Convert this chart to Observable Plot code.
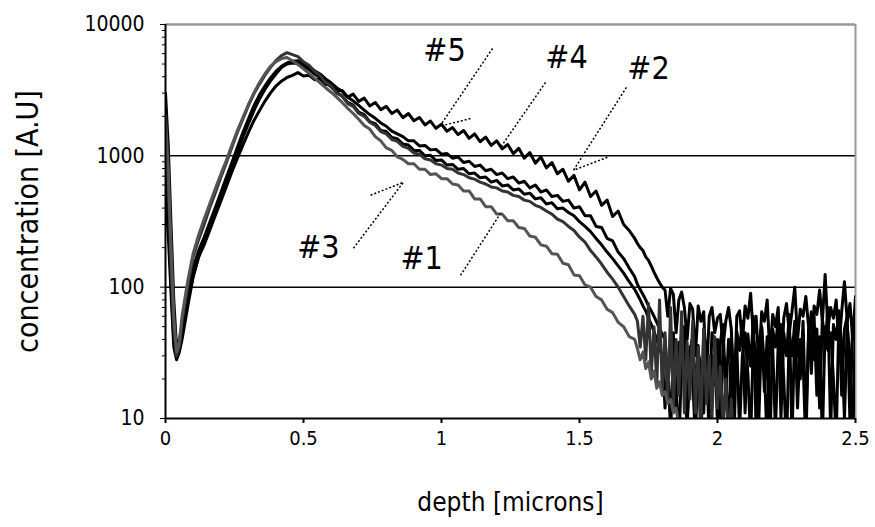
<!DOCTYPE html>
<html>
<head>
<meta charset="utf-8">
<script src="https://cdn.jsdelivr.net/npm/d3@7"></script>
<script src="https://cdn.jsdelivr.net/npm/@observablehq/plot@0.6"></script>
<style>
  html, body { margin: 0; padding: 0; background: #fff; }
  #chart svg { font-family: "DejaVu Sans Condensed", "Liberation Sans Narrow", "Liberation Sans", Arial, sans-serif; }
</style>
</head>
<body>
<div id="chart"></div>
<script>
// sampling grid (microns): 0.01 near the surface, 0.02 in the body, 0.01 in the noisy tail
const depth = [0, 0.01, 0.02, 0.03, 0.04, 0.05,
  ...d3.range(6, 171, 2).map(i => i / 100),
  ...d3.range(171, 251, 1).map(i => i / 100)];

// concentration [A.U], one array per sample
const s5 = [3000, 1200, 300, 80, 35, 40,
  50, 75, 120, 170, 210, 270, 350, 450, 580, 750,
  950, 1200, 1500, 1850, 2200, 2600, 3000, 3400, 3700, 3950,
  4100, 4300, 4050, 4100, 3800, 3850, 3500, 3500, 3150, 3150,
  2800, 2950, 2600, 2750, 2400, 2550, 2250, 2380, 2100, 2230,
  1950, 2100, 1850, 1960, 1720, 1840, 1620, 1740, 1540, 1640,
  1450, 1560, 1360, 1470, 1280, 1390, 1200, 1300, 1130, 1220,
  1040, 1140, 960, 1060, 880, 980, 810, 890, 730, 790,
  640, 710, 550, 630, 490, 540, 420, 460, 345, 380,
  300, 270, 235,
  215, 200, 190, 170, 160, 145, 130, 118, 108, 100,
  95, 60, 98, 88, 45, 80, 92, 70, 40, 75,
  68, 30, 72, 55, 65, 20, 60, 70, 45, 58,
  62, 35, 55, 70, 48, 15, 60, 66, 38, 72,
  58, 90, 42, 60, 25, 65, 55, 80, 30, 62,
  50, 70, 18, 58, 75, 45, 66, 100, 40, 68,
  60, 85, 50, 22, 72, 62, 95, 55, 125, 48,
  70, 58, 80, 35, 65, 110, 55, 75, 40, 85];

const s4 = [800, 350, 110, 40, 30, 35,
  45, 80, 140, 190, 240, 310, 400, 520, 680, 880,
  1150, 1500, 1900, 2400, 2900, 3400, 3900, 4400, 4800, 5100,
  5250, 5300, 5050, 4800, 4450, 4200, 3850, 3600, 3300, 3100,
  2800, 2620, 2420, 2230, 2060, 1930, 1780, 1680, 1540, 1470,
  1400, 1300, 1300, 1190, 1200, 1110, 1120, 1030, 1040, 960,
  980, 890, 910, 830, 850, 770, 790, 720, 740, 670,
  690, 620, 640, 570, 600, 530, 550, 490, 500, 450,
  460, 400, 410, 350, 350, 290, 285, 235, 225, 185,
  165, 140, 120,
  105, 96, 88, 80, 72, 66, 60, 54, 48, 44,
  40, 18, 35, 45, 12, 38, 28, 50, 8, 32,
  42, 15, 36, 6, 48, 30, 12, 45, 35, 9,
  38, 52, 14, 40, 28, 7, 46, 33, 55, 11,
  44, 25, 60, 8, 38, 50, 16, 42, 6, 48,
  35, 58, 10, 45, 30, 62, 7, 50, 38, 20,
  55, 9, 42, 65, 28, 48, 12, 58, 35, 70,
  8, 52, 40, 66, 15, 48, 60, 9, 55, 42];

const s2 = [500, 250, 90, 35, 28, 32,
  40, 70, 120, 170, 220, 290, 370, 480, 620, 800,
  1050, 1380, 1750, 2200, 2700, 3200, 3700, 4200, 4700, 5000,
  5100, 5050, 4800, 4550, 4200, 3950, 3600, 3350, 3050, 2850,
  2550, 2430, 2150, 2060, 1820, 1760, 1560, 1530, 1380, 1350,
  1230, 1210, 1100, 1100, 1000, 1010, 920, 930, 850, 860,
  790, 800, 730, 740, 680, 690, 630, 650, 590, 600,
  550, 560, 510, 520, 470, 480, 430, 440, 395, 400,
  370, 350, 315, 290, 265, 235, 210, 185, 165, 145,
  128, 110, 96,
  88, 80, 72, 66, 58, 52, 46, 40, 34, 30,
  12, 26, 8, 30, 18, 6, 28, 22, 9, 35,
  20, 7, 32, 25, 11, 38, 6, 30, 18, 40,
  9, 34, 24, 6, 42, 16, 36, 8, 30, 45,
  22, 7, 40, 32, 10, 50, 25, 6, 44, 35,
  8, 38, 52, 20, 6, 45, 30, 55, 12, 40,
  28, 6, 48, 36, 60, 15, 42, 7, 50, 33,
  45, 20, 7, 58, 38, 10, 50, 30, 6, 62];

const s3 = [1500, 600, 150, 50, 30, 35,
  55, 100, 170, 230, 300, 400, 520, 680, 880, 1150,
  1500, 1900, 2400, 2950, 3500, 4100, 4700, 5300, 5800, 6100,
  5900, 5700, 5200, 4900, 4400, 4100, 3600, 3400, 3000, 2850,
  2500, 2380, 2100, 2000, 1800, 1700, 1530, 1470, 1330, 1290,
  1180, 1140, 1050, 1030, 950, 930, 870, 850, 800, 790,
  740, 720, 680, 665, 630, 610, 580, 570, 540, 530,
  500, 490, 460, 450, 420, 405, 380, 360, 330, 315,
  290, 270, 240, 220, 190, 170, 150, 130, 115, 100,
  85, 72, 62,
  55, 35, 60, 28, 75, 22, 50, 18, 80, 16,
  45, 13, 70, 12, 40, 15, 65, 11, 38, 14,
  55, 11, 35, 9, 48, 13, 30, 10, 42, 12,
  25, 9, 20, 6, 14, 5, 9, 5, 5, 5,
  5, 5, 5, 5, 5, 5, 5, 5, 5, 5,
  5, 5, 5, 5, 5, 5, 5, 5, 5, 5,
  5, 5, 5, 5, 5, 5, 5, 5, 5, 5,
  5, 5, 5, 5, 5, 5, 5, 5, 5, 5];

const s1 = [2000, 800, 200, 60, 32, 38,
  60, 110, 180, 250, 330, 430, 560, 720, 920, 1200,
  1550, 1950, 2450, 3000, 3600, 4200, 4800, 5200, 5500, 5600,
  5300, 4950, 4600, 4250, 3900, 3600, 3300, 3050, 2800, 2550,
  2300, 2100, 1900, 1700, 1600, 1400, 1300, 1150, 1100, 980,
  940, 870, 870, 790, 790, 720, 730, 670, 670, 610,
  600, 540, 540, 470, 470, 410, 410, 360, 360, 320,
  320, 285, 280, 245, 240, 210, 205, 180, 178, 152,
  148, 124, 122, 104, 100, 85, 80, 68, 64, 54,
  50, 42, 40,
  34, 28, 32, 24, 27, 20, 23, 17, 19, 15,
  16, 13, 14, 11, 12, 9, 10, 8, 7, 5,
  5, 5, 5, 5, 5, 5, 5, 5, 5, 5,
  5, 5, 5, 5, 5, 5, 5, 5, 5, 5,
  5, 5, 5, 5, 5, 5, 5, 5, 5, 5,
  5, 5, 5, 5, 5, 5, 5, 5, 5, 5,
  5, 5, 5, 5, 5, 5, 5, 5, 5, 5,
  5, 5, 5, 5, 5, 5, 5, 5, 5, 5];

const sampleNames = ["#5", "#4", "#2", "#3", "#1"];
const sampleValues = [s5, s4, s2, s3, s1];
const sampleColors = ["#000000", "#000000", "#000000", "#333333", "#555555"];

const xTicks = [0, 0.5, 1, 1.5, 2, 2.5];
const xTickLabels = ["0", "0.5", "1", "1.5", "2", "2.5"];
const yTicks = [10, 100, 1000, 10000];
const yTickLabels = ["10", "100", "1000", "10000"];
const yMinor = [20, 30, 40, 50, 60, 70, 80, 90, 200, 300, 400, 500, 600, 700, 800, 900, 2000, 3000, 4000, 5000, 6000, 7000, 8000, 9000];
const gridLevels = [100, 1000];

// annotation labels and their pointer lines (data units)
const labelNames = ["#5", "#4", "#2", "#3", "#1"];
const labelX = [1.011, 1.453, 1.750, 0.554, 0.928];
const labelY = [6340, 5610, 4627, 201, 166];
const pointerX1 = [1.185, 1.377, 1.670, 0.681, 1.069, 1.105, 1.601, 0.743];
const pointerY1 = [6570, 3622, 3319, 198, 123, 1927, 975, 501];
const pointerX2 = [0.996, 1.214, 1.478, 0.862, 1.214, 1.007, 1.478, 0.862];
const pointerY2 = [1706, 1161, 776, 629, 365, 1706, 776, 629];

const rows = [];
sampleValues.forEach((vals, si) => {
  vals.forEach((v, i) => rows.push({depth: depth[i], conc: v, sample: sampleNames[si]}));
});
const labels = labelNames.map((t, i) => ({t, x: labelX[i], y: labelY[i]}));
const pointers = pointerX1.map((x1, i) => ({x1, y1: pointerY1[i], x2: pointerX2[i], y2: pointerY2[i]}));

const chart = Plot.plot({
  width: 875,
  height: 527,
  marginLeft: 165,
  marginRight: 20,
  marginTop: 24,
  marginBottom: 109,
  x: {domain: [0, 2.5]},
  y: {type: "log", domain: [10, 10000]},
  color: {domain: sampleNames, range: sampleColors},
  marks: [
    Plot.ruleY(gridLevels, {stroke: "#000", strokeWidth: 1.5}),
    Plot.ruleY([10000], {stroke: "#999", strokeWidth: 2.5}),
    Plot.ruleX([2.5], {stroke: "#999", strokeWidth: 2}),
    Plot.line(rows, {x: "depth", y: "conc", z: "sample", stroke: "sample", strokeWidth: 3, strokeLinejoin: "round", clip: true}),
    Plot.link(pointers, {x1: "x1", y1: "y1", x2: "x2", y2: "y2", stroke: "#000", strokeWidth: 1.5, strokeDasharray: "2,2"}),
    Plot.text(labels, {x: "x", y: "y", text: "t", fontSize: 32, textAnchor: "middle", lineAnchor: "middle", fill: "#000"}),
    Plot.ruleX([0], {stroke: "#000", strokeWidth: 2}),
    Plot.ruleY([10], {stroke: "#000", strokeWidth: 2}),
    Plot.axisX({ticks: xTicks, tickFormat: (d) => xTickLabels[xTicks.indexOf(d)], tickSize: 5, tickPadding: 7, fontSize: 20, label: null, strokeWidth: 2}),
    Plot.axisY({ticks: yMinor, tickFormat: () => "", tickSize: 3, label: null}),
    Plot.axisY({ticks: yTicks, tickFormat: (d) => yTickLabels[yTicks.indexOf(d)], tickSize: 5, tickPadding: 16, fontSize: 21, label: null}),
    Plot.text(["depth [microns]"], {frameAnchor: "bottom", dy: 92, fontSize: 26, fill: "#000"}),
    Plot.text(["concentration [A.U]"], {frameAnchor: "left", textAnchor: "middle", lineAnchor: "middle", dx: -137, rotate: -90, fontSize: 30, fill: "#000"})
  ]
});
document.getElementById("chart").appendChild(chart);
</script>
</body>
</html>
